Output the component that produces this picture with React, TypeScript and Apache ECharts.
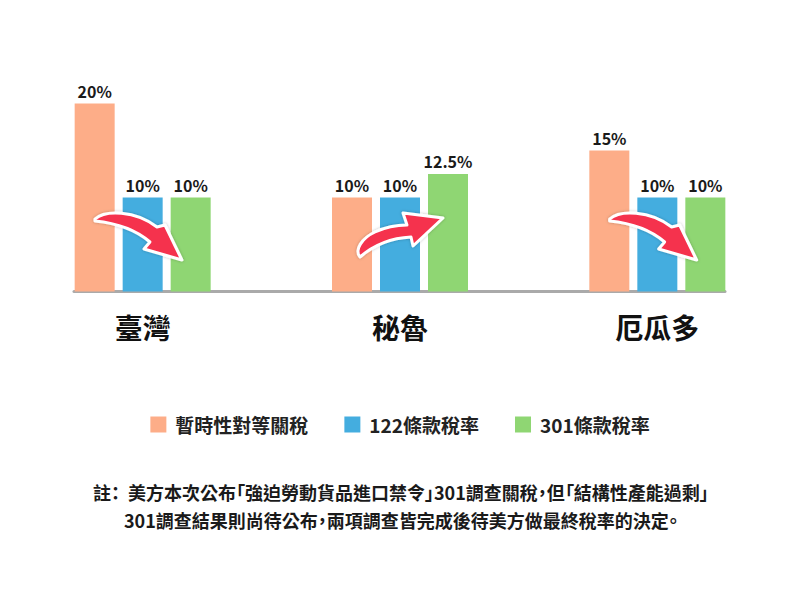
import React, { useEffect, useRef } from 'react';
import * as echarts from 'echarts';

const countries = ['臺灣', '秘魯', '厄瓜多'];
const seriesNames = ['暫時性對等關稅', '122條款稅率', '301條款稅率'];
const reciprocalRates = [20, 10, 15];
const sec122Rates = [10, 10, 10];
const sec301Rates = [10, 12.5, 10];
const seriesColors = ['#fdad88', '#44addf', '#8fd673'];

const noteMark = '註：';
const noteLines = [
  '美方本次公布「強迫勞動貨品進口禁令」301調查關稅，但「結構性產能過剩」',
  '301調查結果則尚待公布，兩項調查皆完成後待美方做最終稅率的決定。',
];

const FONT = "'Noto Sans CJK TC', 'Noto Sans', sans-serif";

// arrow outlines, local origin at the tail
const ARROW_DOWN =
  'M 0 0 C 10 -9 40 -9 62 8 L 70 6 L 87 41 L 49 30 L 55 23 C 40 10 20 4 0 2 Z';
const ARROW_UP =
  'M 0 0 C -6 -7 2 -19 15 -25 C 28 -31 38 -32 47 -32 L 43 -44 L 83 -39 L 53 -11 L 51 -20 C 32 -19 15 -13 0 0 Z';

echarts.graphic.registerShape('arrowDown', echarts.graphic.extendPath(ARROW_DOWN, {}));
echarts.graphic.registerShape('arrowUp', echarts.graphic.extendPath(ARROW_UP, {}));

const App: React.FC = () => {
  const chartRef = useRef<HTMLDivElement>(null);

  useEffect(() => {
    if (!chartRef.current) return;
    const chart = echarts.init(chartRef.current, undefined, { renderer: 'svg' });

    const makeBar = (name: string, data: number[], color: string) => ({
      name,
      type: 'bar',
      data,
      barWidth: 40,
      barGap: '20%',
      itemStyle: { color },
      label: {
        show: true,
        position: 'top',
        distance: 5,
        formatter: (p: any) => `${p.value}%`,
        fontFamily: FONT,
        fontSize: 16,
        fontWeight: 'bold',
        color: '#1a1a1a',
      },
    });

    chart.setOption({
      animation: false,
      backgroundColor: '#fff',
      textStyle: { fontFamily: FONT },
      legend: {
        data: seriesNames,
        left: 'center',
        top: 410,
        icon: 'rect',
        itemWidth: 16,
        itemHeight: 16,
        itemGap: 36,
        textStyle: {
          fontFamily: FONT,
          fontSize: 19,
          fontWeight: 'bold',
          color: '#222',
          padding: [0, 0, 0, 4],
        },
      },
      grid: [
        { left: 14, right: 14, top: 56.5, bottom: 308.5 },
        { left: 74, right: 75, top: 56.5, bottom: 308.5 },
      ],
      xAxis: [
        {
          type: 'category',
          gridIndex: 0,
          data: countries,
          axisLine: { show: false },
          axisTick: { show: false },
          axisLabel: {
            margin: 21,
            fontFamily: FONT,
            fontSize: 28,
            fontWeight: 'bold',
            color: '#111',
          },
        },
        {
          type: 'value',
          gridIndex: 1,
          min: 0,
          max: 1,
          axisLine: { show: true, onZero: false, lineStyle: { color: '#aaaaaa', width: 3 } },
          axisTick: { show: false },
          axisLabel: { show: false },
          splitLine: { show: false },
        },
      ],
      yAxis: [
        { type: 'value', gridIndex: 0, min: 0, max: 25, show: false },
        { type: 'value', gridIndex: 1, min: 0, max: 1, show: false },
      ],
      series: [
        makeBar(seriesNames[0], reciprocalRates, seriesColors[0]),
        makeBar(seriesNames[1], sec122Rates, seriesColors[1]),
        makeBar(seriesNames[2], sec301Rates, seriesColors[2]),
      ],
    });

    const arrows = countries.map((c, i) => {
      const cx = chart.convertToPixel({ xAxisIndex: 0 }, c) as number;
      const up = sec301Rates[i] > reciprocalRates[i];
      return {
        type: up ? 'arrowUp' : 'arrowDown',
        x: up ? cx - 40 : cx - 47.7,
        y: up ? 257 : 219,
        z: 10,
        style: {
          fill: '#f5304e',
          stroke: '#ffffff',
          lineWidth: 3,
          lineJoin: 'round',
          shadowBlur: 3,
          shadowColor: 'rgba(0,0,0,0.25)',
        },
      };
    });

    const noteStyle = {
      fontFamily: FONT,
      fontSize: 18,
      fontWeight: 'bold',
      fill: '#1a1a1a',
      textVerticalAlign: 'middle',
    };

    chart.setOption({
      graphic: [
        ...arrows,
        { type: 'text', x: 93, y: 492, z: 10, style: { ...noteStyle, text: noteMark } },
        { type: 'text', x: 128, y: 492, z: 10, style: { ...noteStyle, text: noteLines[0] } },
        { type: 'text', x: 124, y: 520, z: 10, style: { ...noteStyle, text: noteLines[1] } },
      ],
    });

    return () => {
      chart.dispose();
    };
  }, []);

  return (
    <div
      ref={chartRef}
      style={{
        position: 'fixed',
        left: 0,
        top: 0,
        width: 800,
        height: 600,
        background: '#fff',
        fontFeatureSettings: '"palt"',
      }}
    />
  );
};

export default App;
